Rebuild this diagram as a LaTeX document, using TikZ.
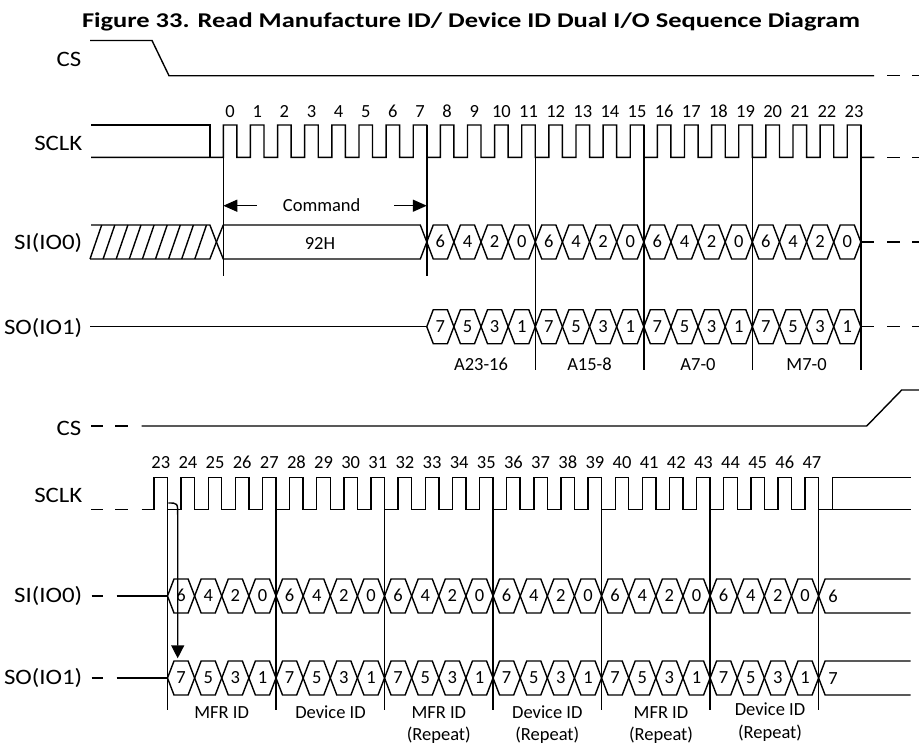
\documentclass[tikz,border=0pt]{standalone}
\usepackage{fontspec}
\usepackage{graphicx}
\setmainfont{Carlito}
\usetikzlibrary{arrows.meta}
\newcommand{\hexcell}[5]{%
  \draw ({#1},{#3}) -- ({#1+6.5},{#3-17}) -- ({#2-6.5},{#3-17}) -- ({#2},{#3}) -- ({#2-6.5},{#3+17}) -- ({#1+6.5},{#3+17}) -- cycle;
  \node[num] (#5) at ({(#1+#2)/2},{#3}) {#4};}
\newcommand{\sx}[1]{\scalebox{1.13}[1]{#1}}
\begin{document}
\begin{tikzpicture}[x=1pt,y=-1pt,line width=1.4pt,line join=miter,
  sig/.style={font=\fontsize{22}{24}\selectfont,anchor=east,inner sep=0pt,text height=14.2pt,text depth=0pt},
  num/.style={font=\fontsize{18.5}{20}\selectfont,inner sep=0pt,text height=11.7pt,text depth=0pt},
  lbl/.style={font=\fontsize{18.5}{20}\selectfont,inner sep=0pt,text height=11.7pt,text depth=0pt},
  arr/.style={-{Triangle[length=14pt,width=12pt]}}]
\useasboundingbox (0,0) rectangle (919,745);
% title
\node[anchor=base,inner sep=0pt] (title) at (471,27.3) {\resizebox{778pt}{\height}{\fontsize{21}{24}\selectfont\bfseries Figure 33. Read Manufacture ID/ Device ID Dual I/O Sequence Diagram}};
% ---------------- top section ----------------
\node[sig] (cs1) at (82,59.5) {\sx{CS}};
\node[sig] (sclk1) at (83,143) {\sx{SCLK}};
\node[sig] (si1) at (83,242.5) {\sx{SI(IO0)}};
\node[sig] (so1) at (83,327.5) {\sx{SO(IO1)}};
% CS
\draw (90,40.5) -- (152,40.5) -- (169,75.7) -- (874,75.7);
\draw (887,75.7) -- (900,75.7) (912,75.7) -- (919,75.7);
% SCLK
\draw (91,125) -- (210,125) -- (210,157.3);
\draw (91,157.3) -- (223.3,157.3) \foreach \k in {0,...,23}{ -- ({223.3+27.13*\k},125) -- ({236.86+27.13*\k},125) -- ({236.86+27.13*\k},157.3) -- ({250.43+27.13*\k},157.3)};
\draw (887,157.3) -- (900,157.3) (912,157.3) -- (919,157.3);
\foreach \k in {0,...,23} \node[num] (tn\k) at ({230.1+27.13*\k},111.5) {\k};
% vertical guides
\draw (223.3,125) -- (223.3,275.7);
\draw (426.8,125) -- (426.8,275.7);
\foreach \k in {11,15,19,23} \draw ({236.86+27.13*\k},125) -- ({236.86+27.13*\k},370);
% command arrows
\coordinate (cmdL) at (223.3,205.7);
\coordinate (cmdR) at (426.8,205.7);
\coordinate (cmdLs) at (256.7,205.7);
\coordinate (cmdRs) at (394.3,205.7);
\draw[arr] (cmdLs) -- (cmdL);
\draw[arr] (cmdRs) -- (cmdR);
\node[lbl] (cmd) at (321.7,206) {Command};
% SI top
\draw (91,225) -- (209.9,225) -- (216.4,242) -- (209.9,259) -- (90,259);
\foreach \i in {0,...,8} \draw ({90+13.1*\i},259) -- ({101.7+13.1*\i},225);
\draw (216.4,242) -- (223.3,225) -- (420.3,225) -- (426.8,242) -- (420.3,259) -- (223.3,259) -- cycle;
\node[lbl] (cmdval) at (320,243.3) {92H};
% SO top
\draw (90,326.7) -- (426.8,326.7);
\foreach \j in {0,...,15}{
  \pgfmathsetmacro\xa{236.86+27.13*(7+\j)}
  \pgfmathsetmacro\xb{\xa+27.13}
  \pgfmathtruncatemacro\di{6-2*mod(\j,4)}
  \pgfmathtruncatemacro\dO{7-2*mod(\j,4)}
  \hexcell{\xa}{\xb}{242}{\di}{tsi\j}
  \hexcell{\xa}{\xb}{326.7}{\dO}{tso\j}
}
\draw (860.9,242) -- (874,242);
\draw (887,242) -- (900,242) (912,242) -- (919,242);
\draw (860.9,326.7) -- (874,326.7);
\draw (887,326.7) -- (900,326.7) (912,326.7) -- (919,326.7);
\node[lbl] (la) at (481,365) {A23-16};
\node[lbl] (lb) at (589.5,365) {A15-8};
\node[lbl] (lc) at (698,365) {A7-0};
\node[lbl] (ld) at (806.6,365) {M7-0};
% ---------------- bottom section ----------------
\node[sig] (cs2) at (82,428.8) {\sx{CS}};
\node[sig] (sclk2) at (83,495.5) {\sx{SCLK}};
\node[sig] (si2) at (83,595.8) {\sx{SI(IO0)}};
\node[sig] (so2) at (83,677.2) {\sx{SO(IO1)}};
% CS
\draw (91,426) -- (103.3,426) (115,426) -- (128.3,426);
\draw (141.7,426) -- (866.7,426) -- (901.7,390) -- (919,390);
% SCLK
\draw (91,509.3) -- (103.3,509.3) (115,509.3) -- (128.3,509.3);
\draw (141.7,509.3) \foreach \k in {23,...,47}{ -- ({154+27.13*(\k-23)},509.3) -- ({154+27.13*(\k-23)},477.3) -- ({167.5+27.13*(\k-23)},477.3) -- ({167.5+27.13*(\k-23)},509.3)} -- (910.7,509.3);
\draw (832.7,509.3) -- (832.7,477.3) -- (910.7,477.3);
\foreach \k in {23,...,47} \node[num] (bn\k) at ({160.8+27.13*(\k-23)},462.5) {\k};
\foreach \k in {23,27,...,47} \draw ({167.5+27.13*(\k-23)},477.3) -- ({167.5+27.13*(\k-23)},710);
% SI / SO bottom
\draw (91.7,596) -- (103.3,596);
\draw (116.7,596) -- (167.5,596);
\draw (91.7,678) -- (103.3,678);
\draw (116.7,678) -- (167.5,678);
\foreach \j in {0,...,23}{
  \pgfmathsetmacro\xa{167.5+27.13*\j}
  \pgfmathsetmacro\xb{\xa+27.13}
  \pgfmathtruncatemacro\di{6-2*mod(\j,4)}
  \pgfmathtruncatemacro\dO{7-2*mod(\j,4)}
  \hexcell{\xa}{\xb}{596}{\di}{bsi\j}
  \hexcell{\xa}{\xb}{678}{\dO}{bso\j}
}
\draw (910.7,579) -- (825.1,579) -- (818.6,596) -- (825.1,613) -- (910.7,613);
\draw (910.7,661) -- (825.1,661) -- (818.6,678) -- (825.1,695) -- (910.7,695);
\node[num] (bsiend) at (833,596.8) {6};
\node[num] (bsoend) at (833,678.5) {7};
% curved arrow
\coordinate (ca1) at (168.3,503);
\coordinate (ca2) at (177.7,658.3);
\draw[-{Triangle[length=13pt,width=13pt]}] (ca1) .. controls (177.7,503) .. (177.7,515) -- (ca2);
% labels
\node[lbl] (m1) at (221.7,712.5) {MFR ID};
\node[lbl] (d1) at (330.5,712.5) {Device ID};
\node[lbl] (m2) at (438.8,712.5) {MFR ID};
\node[lbl] (m2r) at (438.8,735) {(Repeat)};
\node[lbl] (d2) at (547.3,712.5) {Device ID};
\node[lbl] (d2r) at (547.3,735) {(Repeat)};
\node[lbl] (m3) at (661,712.5) {MFR ID};
\node[lbl] (m3r) at (661,735) {(Repeat)};
\node[lbl] (d3) at (770,710) {Device ID};
\node[lbl] (d3r) at (770,732.7) {(Repeat)};
\end{tikzpicture}
\end{document}
